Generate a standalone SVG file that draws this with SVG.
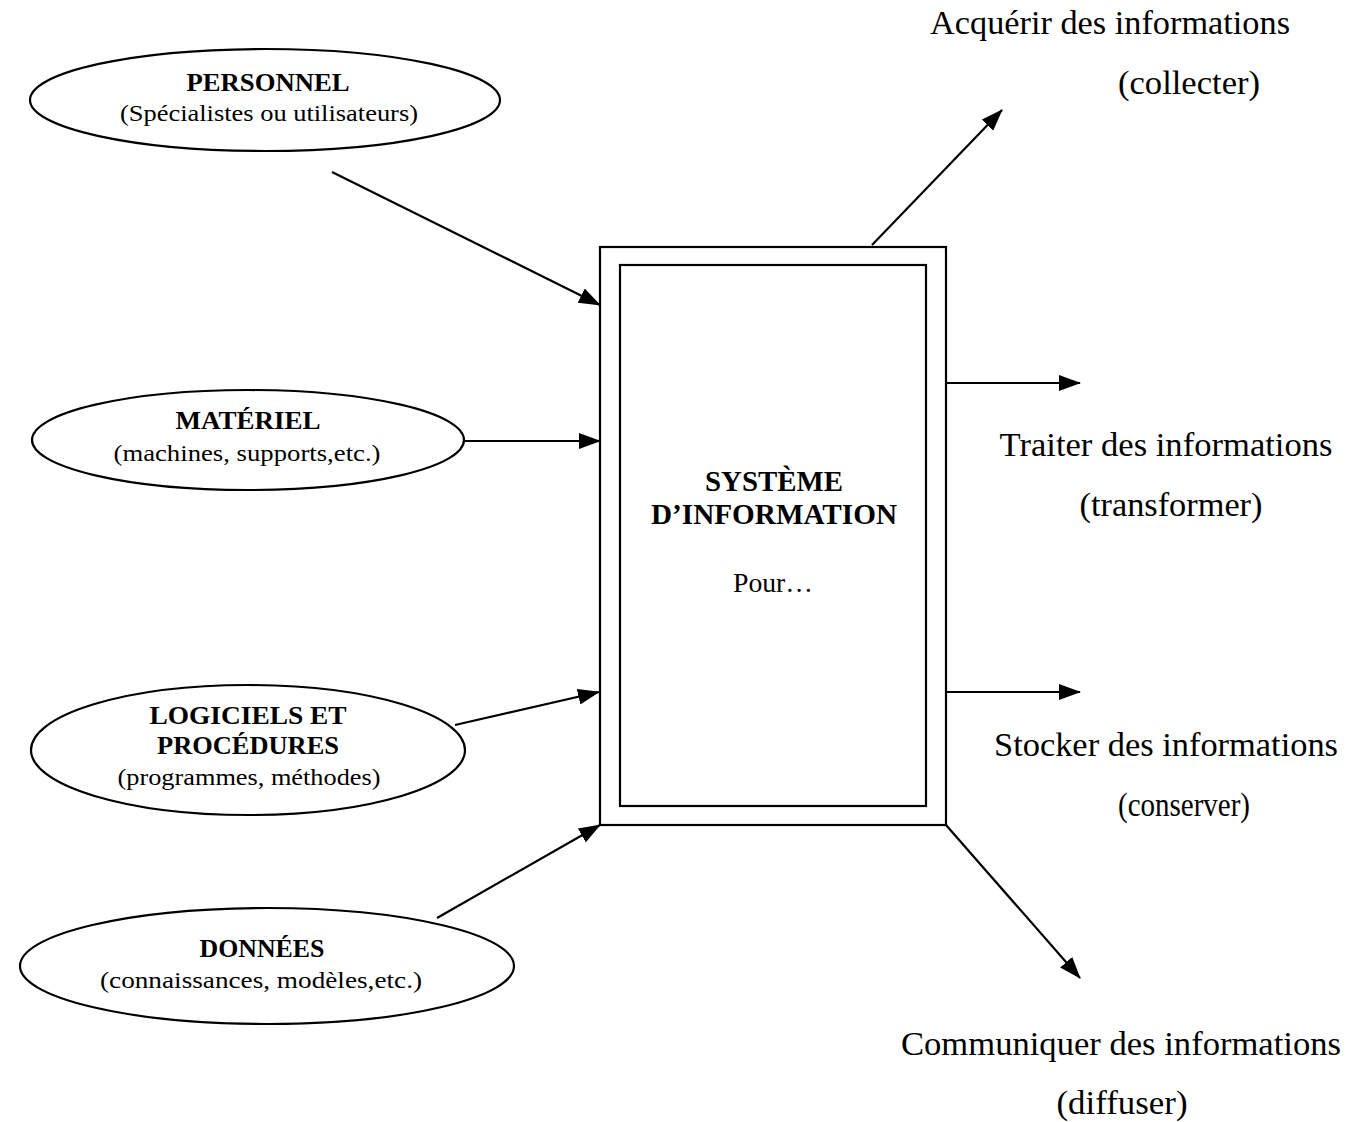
<svg xmlns="http://www.w3.org/2000/svg" width="1351" height="1122" viewBox="0 0 1351 1122">
<defs>
<marker id="ah" markerWidth="22" markerHeight="16" refX="21" refY="8" orient="auto" markerUnits="userSpaceOnUse">
<path d="M0,0 L22,8 L0,16 Z" fill="#000"/>
</marker>
<style>
.sh{fill:#fff;stroke:#000;stroke-width:2.2}
.b{font-family:"Liberation Serif",serif;font-weight:bold;text-anchor:middle;fill:#000}
.n{font-family:"Liberation Serif",serif;text-anchor:middle;fill:#000}
.c{stroke:#000;stroke-width:2.2;fill:none;marker-end:url(#ah)}
</style>
</defs>
<rect width="1351" height="1122" fill="#fff"/>
<g id="personnel">
<ellipse class="sh" cx="265" cy="100" rx="235" ry="51"/>
<text class="b" x="268" y="91" font-size="26" textLength="163" lengthAdjust="spacingAndGlyphs">PERSONNEL</text>
<text class="n" x="269" y="121" font-size="24" textLength="298" lengthAdjust="spacingAndGlyphs">(Spécialistes ou utilisateurs)</text>
</g>
<g id="materiel">
<ellipse class="sh" cx="248" cy="440" rx="216" ry="50"/>
<text class="b" x="248" y="429" font-size="26" textLength="145" lengthAdjust="spacingAndGlyphs">MATÉRIEL</text>
<text class="n" x="247" y="461" font-size="24" textLength="267" lengthAdjust="spacingAndGlyphs">(machines, supports,etc.)</text>
</g>
<g id="logiciels">
<ellipse class="sh" cx="248" cy="750" rx="217" ry="65"/>
<text class="b" x="248" y="724" font-size="26" textLength="197" lengthAdjust="spacingAndGlyphs">LOGICIELS  ET</text>
<text class="b" x="248" y="754" font-size="26" textLength="182" lengthAdjust="spacingAndGlyphs">PROCÉDURES</text>
<text class="n" x="249" y="785" font-size="24" textLength="263" lengthAdjust="spacingAndGlyphs">(programmes, méthodes)</text>
</g>
<g id="donnees">
<ellipse class="sh" cx="267" cy="966" rx="247" ry="58"/>
<text class="b" x="262" y="957" font-size="26" textLength="125" lengthAdjust="spacingAndGlyphs">DONNÉES</text>
<text class="n" x="261" y="988" font-size="24" textLength="322" lengthAdjust="spacingAndGlyphs">(connaissances,  modèles,etc.)</text>
</g>
<g id="systeme">
<rect class="sh" x="600" y="247" width="346" height="578" stroke-width="2.6"/>
<rect class="sh" x="620" y="265" width="306" height="541" stroke-width="2.6"/>
<text class="b" x="774" y="491" font-size="29" textLength="138" lengthAdjust="spacingAndGlyphs">SYSTÈME</text>
<text class="b" x="774" y="524" font-size="29" textLength="246" lengthAdjust="spacingAndGlyphs">D’INFORMATION</text>
<text class="n" x="773" y="592" font-size="27" textLength="80" lengthAdjust="spacingAndGlyphs">Pour…</text>
</g>
<g id="acquerir">
<text class="n" x="1110" y="34" font-size="33" textLength="360" lengthAdjust="spacingAndGlyphs">Acquérir des informations</text>
<text class="n" x="1189" y="94" font-size="33" textLength="142" lengthAdjust="spacingAndGlyphs">(collecter)</text>
</g>
<g id="traiter">
<text class="n" x="1166" y="456" font-size="33" textLength="333" lengthAdjust="spacingAndGlyphs">Traiter des informations</text>
<text class="n" x="1171" y="516" font-size="33" textLength="183" lengthAdjust="spacingAndGlyphs">(transformer)</text>
</g>
<g id="stocker">
<text class="n" x="1166" y="756" font-size="33" textLength="344" lengthAdjust="spacingAndGlyphs">Stocker des informations</text>
<text class="n" x="1184" y="816" font-size="33" textLength="132" lengthAdjust="spacingAndGlyphs">(conserver)</text>
</g>
<g id="communiquer">
<text class="n" x="1121" y="1055" font-size="33" textLength="440" lengthAdjust="spacingAndGlyphs">Communiquer des informations</text>
<text class="n" x="1122" y="1114" font-size="33" textLength="131" lengthAdjust="spacingAndGlyphs">(diffuser)</text>
</g>
<g id="connectors">
<line class="c" x1="332" y1="172" x2="600" y2="305"/>
<line class="c" x1="465" y1="441" x2="600" y2="441"/>
<line class="c" x1="455" y1="725" x2="599" y2="692"/>
<line class="c" x1="437" y1="918" x2="600" y2="825"/>
<line class="c" x1="872" y1="245" x2="1002" y2="110"/>
<line class="c" x1="946" y1="383" x2="1080" y2="383"/>
<line class="c" x1="946" y1="692" x2="1080" y2="692"/>
<line class="c" x1="946" y1="825" x2="1080" y2="978"/>
</g>
</svg>
